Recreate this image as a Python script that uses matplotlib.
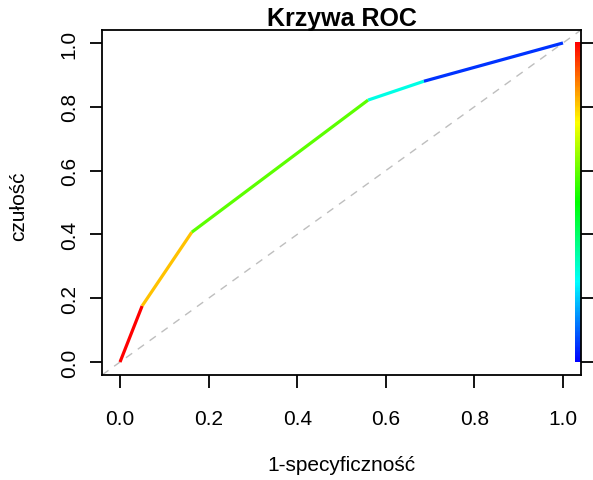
import numpy as np
import matplotlib
matplotlib.use("Agg")
import matplotlib.pyplot as plt
from matplotlib.colors import hsv_to_rgb

# ROC curve points (false positive rate, true positive rate)
fpr = [0.0, 0.050, 0.162, 0.560, 0.686, 1.0]
tpr = [0.0, 0.176, 0.407, 0.821, 0.880, 1.0]
# normalised cutoff used to colour each segment (1 = highest cutoff)
seg_cutoff = [1.00, 0.81, 0.59, 0.275, 0.05]
ticks = [0.0, 0.2, 0.4, 0.6, 0.8, 1.0]
tick_labels = ["0.0", "0.2", "0.4", "0.6", "0.8", "1.0"]


def rainbow(c):
    # R-style rainbow: blue (low) -> red (high)
    return hsv_to_rgb([(1.0 - c) * 2.0 / 3.0, 1.0, 1.0])


plt.rcParams["font.family"] = ["Liberation Sans", "DejaVu Sans"]

W, H = 593, 481
fig = plt.figure(figsize=(W / 100, H / 100), dpi=100)
ax = fig.add_axes([102.3 / W, (H - 375.8) / H, (580.7 - 102.3) / W, (375.8 - 31.2) / H])
ax.set_xlim(-0.04, 1.04)
ax.set_ylim(-0.04, 1.04)

# chance diagonal
ax.axline((0, 0), (1, 1), color="#bebebe", lw=1.0, dashes=(5.5, 5), zorder=1)

# coloured ROC segments
for i, c in enumerate(seg_cutoff):
    ax.plot(fpr[i:i + 2], tpr[i:i + 2], color=rainbow(c), lw=2.3,
            solid_capstyle="butt", zorder=3)

# colour key along the right edge
key = np.linspace(0, 1, 256)
key_img = np.array([rainbow(v) for v in key])[:, None, :]
ax.imshow(key_img, extent=[1.028, 1.04, 0.0, 1.0], origin="lower",
          aspect="auto", interpolation="nearest", zorder=2)

for s in ax.spines.values():
    s.set_linewidth(1.3)

ax.set_xticks(ticks)
ax.set_xticklabels(tick_labels)
ax.set_yticks(ticks)
ax.set_yticklabels(tick_labels)
ax.tick_params(axis="both", direction="out", length=9, width=1.3,
               labelsize=15, colors="black")
ax.tick_params(axis="x", pad=15.5)
ax.tick_params(axis="y", pad=8, labelrotation=90, right=True, labelright=False)
for lbl in ax.get_yticklabels():
    lbl.set_va("center")

fig.text((102.3 + 580.7) / 2 / W, (H - 26) / H, "Krzywa ROC", ha="center",
         va="baseline", fontsize=18, fontweight="bold")
fig.text((102.3 + 580.7) / 2 / W, (H - 466) / H, "1-specyficzność", ha="center",
         va="center", fontsize=15)
fig.text(18.5 / W, (H - 206) / H, "czułość", ha="center", va="center",
         rotation=90, fontsize=15)

fig.savefig("out.png", dpi=100)
